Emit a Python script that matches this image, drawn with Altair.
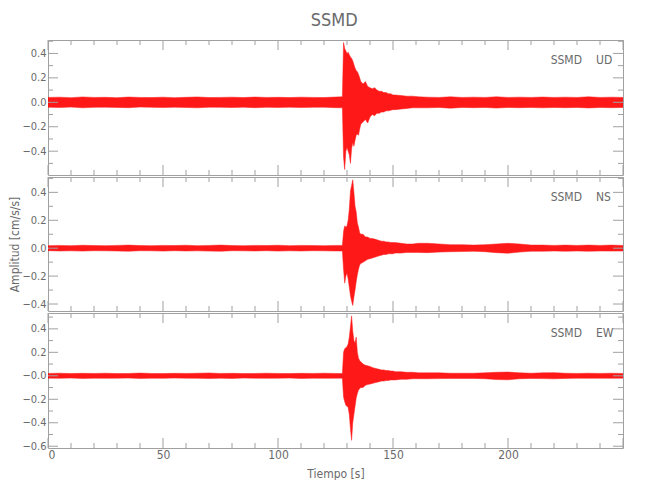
import altair as alt
import pandas as pd

# ---------------- data ----------------
TIME = [0, 5, 10, 15, 20, 25, 30, 35, 40, 45, 50, 55, 60, 65, 70, 75, 80, 85, 90, 95, 100, 105, 110, 115, 120, 125,
        128, 128.5, 129, 129.5, 130, 130.5, 131, 131.5, 132, 132.5, 133, 133.5, 134, 134.5, 135, 135.5, 136,
        137, 138, 139, 140, 141, 142, 143, 144, 145, 146, 147, 148, 149, 150, 151,
        153.5, 156, 158.5, 161,
        165, 170, 175, 180, 185, 190, 195, 200, 205, 210, 215, 220, 225, 230, 235, 240, 245, 250]

UD_HI = [0.040, 0.042, 0.038, 0.044, 0.040, 0.041, 0.038, 0.043, 0.040, 0.039, 0.042, 0.038, 0.041, 0.044, 0.039, 0.040, 0.042, 0.039, 0.043, 0.040, 0.041, 0.039, 0.042, 0.040, 0.039, 0.043,
         0.045, 0.49, 0.44, 0.42, 0.40, 0.41, 0.39, 0.37, 0.36, 0.34, 0.31, 0.28, 0.26, 0.25, 0.23, 0.20, 0.17,
         0.15, 0.17, 0.13, 0.12, 0.11, 0.12, 0.10, 0.09, 0.09, 0.08, 0.08, 0.07, 0.07, 0.06, 0.06,
         0.055, 0.05, 0.05, 0.045,
         0.042, 0.040, 0.045, 0.040, 0.042, 0.040, 0.045, 0.040, 0.042, 0.040, 0.043, 0.040, 0.042, 0.040, 0.045, 0.040, 0.042, 0.040]
UD_LO = [-0.040, -0.043, -0.039, -0.045, -0.041, -0.040, -0.042, -0.044, -0.039, -0.041, -0.043, -0.040, -0.042, -0.045, -0.040, -0.041, -0.043, -0.040, -0.044, -0.041, -0.042, -0.040, -0.043, -0.041, -0.040, -0.044,
         -0.045, -0.45, -0.55, -0.40, -0.37, -0.40, -0.43, -0.50, -0.38, -0.33, -0.36, -0.31, -0.27, -0.26, -0.27, -0.22, -0.18,
         -0.16, -0.14, -0.17, -0.12, -0.10, -0.11, -0.09, -0.09, -0.08, -0.08, -0.07, -0.07, -0.065, -0.06, -0.06,
         -0.055, -0.05, -0.045, -0.045,
         -0.045, -0.042, -0.048, -0.042, -0.044, -0.042, -0.047, -0.042, -0.044, -0.042, -0.045, -0.042, -0.044, -0.042, -0.046, -0.042, -0.044, -0.042]

NS_HI = [0.018, 0.020, 0.018, 0.021, 0.019, 0.018, 0.020, 0.022, 0.019, 0.018, 0.020, 0.019, 0.021, 0.018, 0.020, 0.022, 0.019, 0.018, 0.020, 0.019, 0.021, 0.018, 0.020, 0.019, 0.018, 0.020,
         0.020, 0.12, 0.16, 0.15, 0.16, 0.20, 0.28, 0.41, 0.45, 0.49, 0.40, 0.30, 0.26, 0.18, 0.15, 0.11, 0.10,
         0.10, 0.08, 0.08, 0.07, 0.07, 0.065, 0.06, 0.055, 0.05, 0.05, 0.045, 0.045, 0.04, 0.04, 0.04,
         0.035, 0.03, 0.03, 0.035,
         0.035, 0.030, 0.025, 0.025, 0.022, 0.025, 0.030, 0.035, 0.030, 0.022, 0.022, 0.020, 0.022, 0.020, 0.022, 0.020, 0.022, 0.020]
NS_LO = [-0.018, -0.020, -0.019, -0.021, -0.018, -0.019, -0.020, -0.022, -0.018, -0.019, -0.021, -0.018, -0.020, -0.019, -0.021, -0.022, -0.018, -0.019, -0.020, -0.018, -0.021, -0.019, -0.020, -0.018, -0.019, -0.020,
         -0.020, -0.15, -0.25, -0.20, -0.18, -0.22, -0.28, -0.34, -0.38, -0.41, -0.35, -0.30, -0.24, -0.19, -0.15, -0.12, -0.11,
         -0.10, -0.09, -0.08, -0.075, -0.07, -0.065, -0.06, -0.055, -0.05, -0.045, -0.045, -0.04, -0.04, -0.04, -0.035,
         -0.035, -0.03, -0.03, -0.03,
         -0.032, -0.028, -0.025, -0.024, -0.022, -0.025, -0.032, -0.036, -0.028, -0.022, -0.022, -0.020, -0.022, -0.020, -0.022, -0.020, -0.021, -0.020]

EW_HI = [0.020, 0.022, 0.019, 0.021, 0.020, 0.022, 0.019, 0.020, 0.023, 0.020, 0.019, 0.021, 0.020, 0.022, 0.024, 0.020, 0.021, 0.019, 0.020, 0.022, 0.020, 0.019, 0.021, 0.020, 0.022, 0.020,
         0.020, 0.20, 0.23, 0.24, 0.25, 0.27, 0.33, 0.42, 0.51, 0.38, 0.30, 0.28, 0.33, 0.20, 0.15, 0.13, 0.12,
         0.10, 0.09, 0.085, 0.08, 0.07, 0.065, 0.06, 0.055, 0.05, 0.05, 0.045, 0.045, 0.04, 0.04, 0.035,
         0.035, 0.03, 0.03, 0.025,
         0.025, 0.025, 0.022, 0.022, 0.022, 0.025, 0.030, 0.032, 0.025, 0.022, 0.025, 0.027, 0.022, 0.020, 0.022, 0.020, 0.022, 0.020]
EW_LO = [-0.020, -0.021, -0.019, -0.022, -0.020, -0.021, -0.020, -0.019, -0.022, -0.020, -0.021, -0.019, -0.020, -0.021, -0.023, -0.020, -0.022, -0.019, -0.020, -0.021, -0.020, -0.019, -0.022, -0.020, -0.021, -0.020,
         -0.020, -0.18, -0.22, -0.25, -0.26, -0.27, -0.33, -0.45, -0.55, -0.40, -0.33, -0.26, -0.19, -0.15, -0.12, -0.11, -0.10,
         -0.10, -0.08, -0.075, -0.07, -0.065, -0.06, -0.055, -0.05, -0.045, -0.045, -0.04, -0.04, -0.035, -0.035, -0.035,
         -0.03, -0.03, -0.025, -0.025,
         -0.025, -0.024, -0.022, -0.022, -0.022, -0.025, -0.032, -0.034, -0.025, -0.022, -0.024, -0.026, -0.022, -0.020, -0.021, -0.020, -0.021, -0.020]

STATION = "SSMD"
COMPONENTS = ["UD", "NS", "EW"]

X_MAJOR = [0, 50, 100, 150, 200, 250]
X_MINOR = [10, 20, 30, 40, 60, 70, 80, 90, 110, 120, 130, 140, 160, 170, 180, 190, 210, 220, 230, 240]
X_LABELS = [0, 50, 100, 150, 200]

Y_MAJOR = [-0.6, -0.4, -0.2, 0.0, 0.2, 0.4]
Y_MINOR = [-0.5, -0.3, -0.1, 0.1, 0.3, 0.5]

# ---------------- styling ----------------
FONT = "Liberation Sans Narrow, DejaVu Sans Condensed, Liberation Sans, sans-serif"
TXT = "#6a6a6a"
AXC = "#a0a0a0"
RED = "#ff0000"
W = 575
XS = alt.Scale(domain=[0, 250], nice=False, zero=False)


def panel(hi, lo, comp, ydom, h, bottom=False, ytitle=None, neg_zero=False):
    ys = alt.Scale(domain=ydom, nice=False, zero=False)
    yvals = [v for v in Y_MAJOR if ydom[0] <= v <= ydom[1]]
    if neg_zero:
        lexpr = "datum.value == 0 ? '\u22120.0' : format(datum.value, '.1f')"
    else:
        lexpr = "format(datum.value, '.1f')"
    yargs = dict(values=yvals, labelExpr=lexpr, ticks=False, domain=False, grid=False,
                 labelPadding=2, labelFont=FONT, labelFontSize=11, labelColor=TXT,
                 title=ytitle, titleFont=FONT, titleFontSize=12, titleFontWeight="normal",
                 titleColor=TXT, titlePadding=0)
    yaxis = alt.Axis(**yargs)
    if bottom:
        xaxis = alt.Axis(values=X_LABELS, format="d", ticks=False, domain=False, grid=False,
                         labelPadding=1, labelFont=FONT, labelFontSize=12, labelColor=TXT,
                         title="Tiempo [s]", titleFont=FONT, titleFontSize=12,
                         titleFontWeight="normal", titleColor=TXT, titlePadding=8)
    else:
        xaxis = None

    df = pd.DataFrame({"t": TIME, "hi": hi, "lo": lo})
    area = alt.Chart(df).mark_area(color=RED, opacity=0.9, clip=True, stroke=RED,
                                   strokeWidth=0.5).encode(
        x=alt.X("t:Q", scale=XS, axis=xaxis),
        y=alt.Y("hi:Q", scale=ys, axis=yaxis),
        y2="lo:Q",
    )

    layers = [area]
    for vals, ln in [(X_MAJOR, 10), (X_MINOR, 5)]:
        d = pd.DataFrame({"t": vals})
        layers.append(alt.Chart(d).mark_rule(color=AXC, strokeWidth=1).encode(
            x=alt.X("t:Q", scale=XS, axis=xaxis), y=alt.value(0), y2=alt.value(ln)))
        layers.append(alt.Chart(d).mark_rule(color=AXC, strokeWidth=1).encode(
            x=alt.X("t:Q", scale=XS, axis=xaxis), y=alt.value(h), y2=alt.value(h - ln)))
    for vals, ln in [(Y_MAJOR, 10), (Y_MINOR, 5)]:
        d = pd.DataFrame({"hi": [v for v in vals if ydom[0] < v < ydom[1]]})
        layers.append(alt.Chart(d).mark_rule(color=AXC, strokeWidth=1).encode(
            y=alt.Y("hi:Q", scale=ys, axis=yaxis), x=alt.value(0), x2=alt.value(ln)))
        layers.append(alt.Chart(d).mark_rule(color=AXC, strokeWidth=1).encode(
            y=alt.Y("hi:Q", scale=ys, axis=yaxis), x=alt.value(W), x2=alt.value(W - ln)))

    t1 = alt.Chart(pd.DataFrame({"s": [STATION]})).mark_text(
        align="right", baseline="middle", font=FONT, fontSize=12, color=TXT).encode(
        text="s:N", x=alt.value(W - 41), y=alt.value(20))
    t2 = alt.Chart(pd.DataFrame({"s": [comp]})).mark_text(
        align="left", baseline="middle", font=FONT, fontSize=12, color=TXT).encode(
        text="s:N", x=alt.value(W - 27), y=alt.value(20))
    layers += [t1, t2]
    return alt.layer(*layers).properties(width=W, height=h)


top = panel(UD_HI, UD_LO, COMPONENTS[0], [-0.595, 0.51], 135)
mid = panel(NS_HI, NS_LO, COMPONENTS[1], [-0.45, 0.51], 134, ytitle="Amplitud [cm/s/s]")
bot = panel(EW_HI, EW_LO, COMPONENTS[2], [-0.615, 0.535], 135, bottom=True, neg_zero=True)

chart = alt.vconcat(top, mid, bot, spacing=0).properties(
    title=alt.TitleParams(STATION, font=FONT, fontSize=18, fontWeight="normal", color=TXT,
                          anchor="middle", offset=9, dx=18),
    padding={"top": 4, "left": 0, "right": 0, "bottom": 0},
).configure_view(stroke=AXC, strokeWidth=1).configure_concat(spacing=0)

chart.save("out.html", embed_options={"renderer": "svg", "actions": False})
